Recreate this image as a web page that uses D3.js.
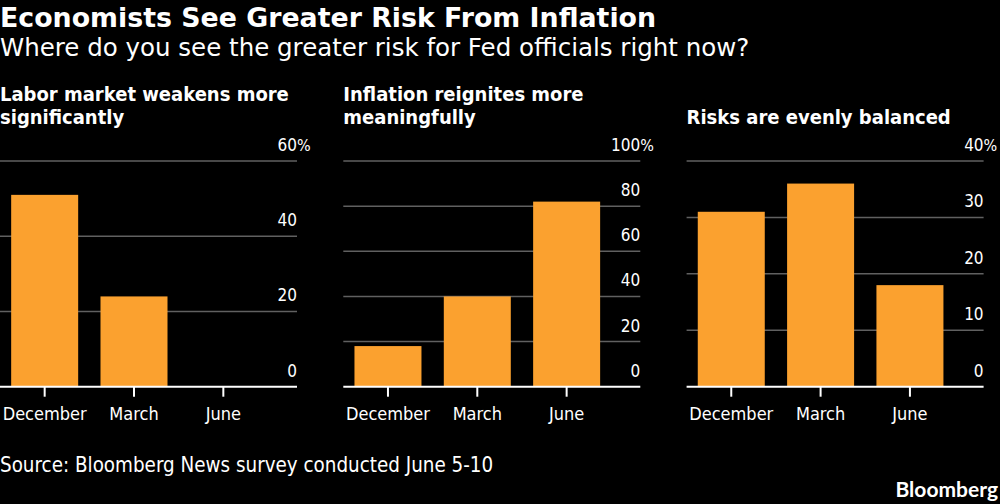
<!DOCTYPE html>
<html>
<head>
<meta charset="utf-8">
<script src="https://cdn.jsdelivr.net/npm/d3@7"></script>
<style>
  body { margin: 0; background: #000; }
  svg { display: block; }
  text { font-family: "DejaVu Sans Condensed", "DejaVu Sans", sans-serif; font-stretch: condensed; fill: #fff; }
</style>
</head>
<body>
<svg id="chart"></svg>
<script>
// chart values
var months = ["December", "March", "June"];
var laborValues = [51, 24, 0];
var inflationValues = [18, 40, 82];
var balancedValues = [31, 36, 18];

var panelTitles = [
  ["Labor market weakens more", "significantly"],
  ["Inflation reignites more", "meaningfully"],
  ["Risks are evenly balanced"]
];
var yMaxes = [60, 100, 40];
var yTicks = [[0, 20, 40, 60], [0, 20, 40, 60, 80, 100], [0, 10, 20, 30, 40]];

var W = 1000, H = 504;
var barColor = "#FBA12F";
var gridColor = "#606060";

var svg = d3.select("#chart").attr("width", W).attr("height", H);

svg.append("rect").attr("width", W).attr("height", H).attr("fill", "#000");

svg.append("text")
  .attr("x", 0).attr("y", 27)
  .style("font-family", "'DejaVu Sans', sans-serif").style("font-stretch", "normal")
  .style("font-size", "26.8px").style("font-weight", "bold")
  .text("Economists See Greater Risk From Inflation");

svg.append("text")
  .attr("x", 0).attr("y", 56)
  .style("font-family", "'DejaVu Sans', sans-serif").style("font-stretch", "normal")
  .style("font-size", "24.5px")
  .text("Where do you see the greater risk for Fed officials right now?");

var panelStep = 343.3,
  panelW = 297,
  plotTop = 161,
  plotBottom = 386.7;

var allValues = [laborValues, inflationValues, balancedValues];

allValues.forEach(function(vals, i) {
  var g = svg.append("g").attr("transform", "translate(" + (i * panelStep) + ",0)");

  // panel title, bottom aligned
  var lines = panelTitles[i];
  lines.forEach(function(l, k) {
    g.append("text")
      .attr("x", 0)
      .attr("y", 124 - (lines.length - 1 - k) * 23)
      .style("font-size", "20px").style("font-weight", "bold")
      .text(l);
  });

  var x = d3.scaleBand().domain(months).range([0, 268])
    .paddingInner(0.25).paddingOuter(0.125);
  var y = d3.scaleLinear().domain([0, yMaxes[i]]).range([plotBottom, plotTop]);

  // gridlines
  g.selectAll("line.grid").data(yTicks[i].filter(function(t) { return t > 0; }))
    .enter().append("line")
    .attr("class", "grid")
    .attr("x1", 0).attr("x2", panelW)
    .attr("y1", d => y(d)).attr("y2", d => y(d))
    .attr("stroke", gridColor).attr("stroke-width", 1.5);

  // y labels
  g.selectAll("text.ylab").data(yTicks[i])
    .enter().append("text")
    .attr("class", "ylab")
    .attr("x", panelW).attr("y", d => y(d) - 10)
    .attr("text-anchor", "end")
    .style("font-size", "17px")
    .text(d => d);

  g.append("text")
    .attr("x", panelW).attr("y", y(yMaxes[i]) - 10)
    .style("font-size", "16px")
    .text("%");

  // bars
  g.selectAll("rect.bar").data(vals)
    .enter().append("rect")
    .attr("class", "bar")
    .attr("x", (d, j) => x(months[j]))
    .attr("width", x.bandwidth())
    .attr("y", d => y(d))
    .attr("height", d => plotBottom - y(d))
    .attr("fill", barColor);

  // x axis
  var xAxis = g.append("g")
    .attr("transform", "translate(0," + plotBottom + ")")
    .call(d3.axisBottom(x).tickSize(10).tickPadding(11));
  xAxis.select(".domain").remove();
  xAxis.selectAll(".tick line").attr("stroke", "#fff").attr("stroke-width", 2);
  xAxis.selectAll(".tick text")
    .attr("fill", "#fff")
    .style("font-size", "18px")
    .style("font-family", null);

  g.append("line")
    .attr("x1", 0).attr("x2", panelW)
    .attr("y1", plotBottom).attr("y2", plotBottom)
    .attr("stroke", "#fff").attr("stroke-width", 2);
});

svg.append("text")
  .attr("x", 0).attr("y", 472)
  .style("font-size", "20.4px")
  .text("Source: Bloomberg News survey conducted June 5-10");

svg.append("text")
  .attr("x", 998).attr("y", 497)
  .attr("text-anchor", "end")
  .style("font-family", "Lato, 'Open Sans', sans-serif")
  .style("font-stretch", "normal")
  .style("font-size", "21px").style("font-weight", "bold")
  .text("Bloomberg");
</script>
</body>
</html>
